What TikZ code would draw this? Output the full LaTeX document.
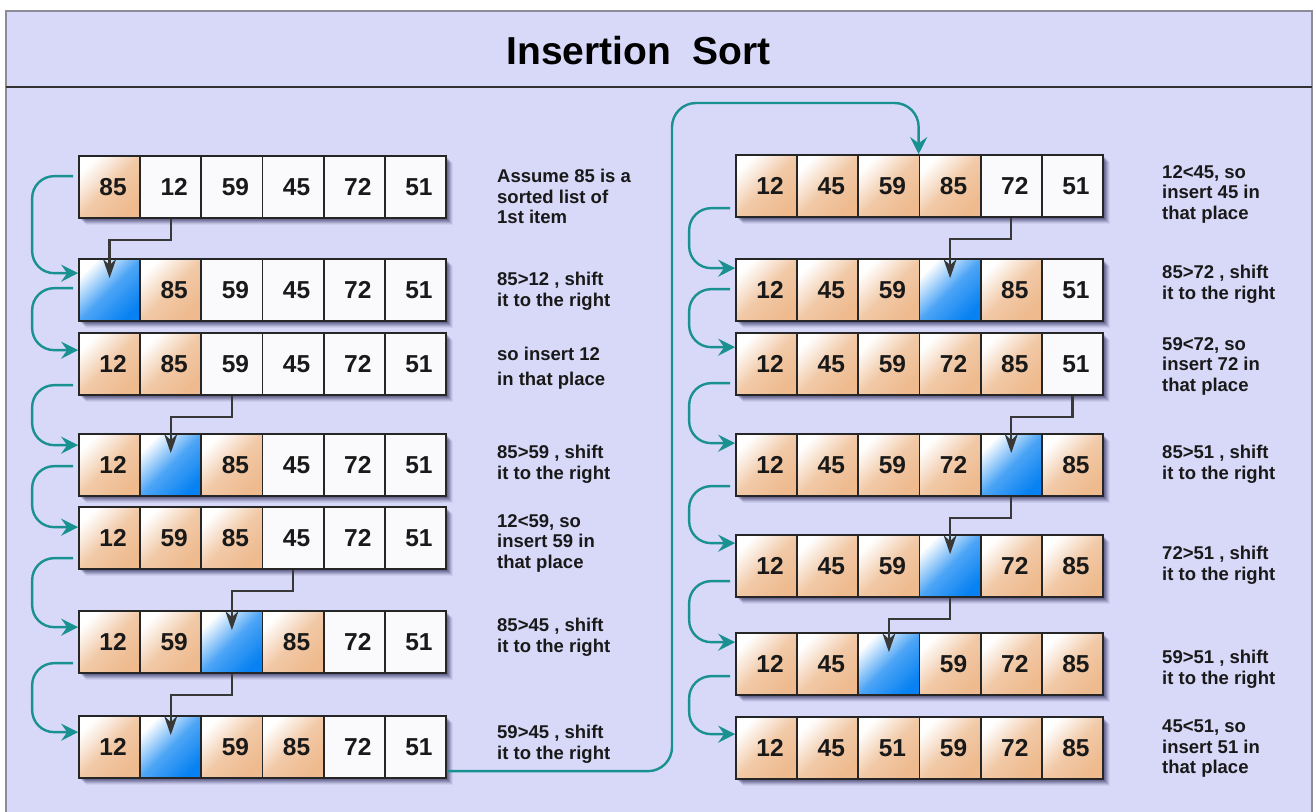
\documentclass[tikz,border=0pt]{standalone}
\usepackage{fontspec}
\setmainfont{Liberation Sans}
\usetikzlibrary{arrows.meta}
\definecolor{bgl}{RGB}{216,216,248}
\definecolor{peach}{RGB}{238,186,142}
\definecolor{cblue}{RGB}{8,130,242}
\definecolor{tealc}{RGB}{26,145,145}
\definecolor{framegray}{RGB}{140,140,150}
\definecolor{cwhite}{RGB}{250,250,252}
\newcommand\numfont{\fontsize{24.5}{26}\selectfont\bfseries}
\newcommand\lblfont{\fontsize{18.5}{20.5}\selectfont\bfseries}
\newcommand\arow[4]{%
  \foreach \d/\o in {1/0.15,2/0.15,3/0.14,4/0.13,5/0.11,6/0.08,7/0.05}{%
    \fill[black!80!blue,opacity=\o] ({#2+\d},{#3+\d}) rectangle ({#2+367+\d},{#3+62+\d});}
  \foreach \s/\v [count=\i from 0] in {#4}{%
    \node[cell,cell\s] (#1-\i) at ({#2+30.58+61.17*\i},{#3+31}) {\hspace*{7pt}\v};}
}
\newcommand\tarrow[4]{%
  \draw[tealarr] ([xshift=-5pt,yshift=-#2pt]#1.north west) -- ++(-41,0)
    |- ([yshift=-#4pt]#3.north west);}
\newcommand\barrow[2]{%
  \draw[blkarr] (#1.south) -- ++(0,21) -| ([yshift=-20pt]#2.north);}
\begin{document}
\begin{tikzpicture}[x=1pt,y=-1pt,
  cell/.style={draw=black!85,line width=1.7pt,minimum width=61.17pt,minimum height=62pt,
    inner sep=0pt,font=\numfont,text=black!90},
  cello/.style={top color=white,bottom color=peach,middle color=peach!78!white,shading angle=45},
  cellw/.style={fill=cwhite},
  cellb/.style={top color=white,bottom color=cblue,middle color=cblue!72!white,shading angle=45},
  tealarr/.style={draw=tealc,line width=2.4pt,rounded corners=22pt,
    -{Stealth[length=17pt,width=17pt,inset=6pt]}},
  blkarr/.style={draw=black!78,line width=2.3pt,
    -{Stealth[length=19pt,width=13pt,inset=6pt]}},
  lbl/.style={anchor=north west,inner sep=0pt,align=left,font=\lblfont,text=black!90}]
\useasboundingbox (0,0) rectangle (1316,811);
\fill[white] (0,0) rectangle (1316,811);
\draw[draw=framegray,fill=bgl,line width=1.5pt] (6,11) rectangle (1312,840);
\draw[black!80,line width=1.6pt] (6,87) -- (1312,87);
\node[anchor=base,inner sep=0pt,font=\fontsize{39}{42}\selectfont\bfseries] (title) at (638.5,64) {Insertion~~Sort};

% left column
\arow{L1}{79}{156}{o/85,w/12,w/59,w/45,w/72,w/51}
\arow{L2}{79}{259}{b/{},o/85,w/59,w/45,w/72,w/51}
\arow{L3}{79}{333}{o/12,o/85,w/59,w/45,w/72,w/51}
\arow{L4}{79}{434}{o/12,b/{},o/85,w/45,w/72,w/51}
\arow{L5}{79}{507}{o/12,o/59,o/85,w/45,w/72,w/51}
\arow{L6}{79}{611}{o/12,o/59,b/{},o/85,w/72,w/51}
\arow{L7}{79}{716}{o/12,b/{},o/59,o/85,w/72,w/51}
% right column
\arow{R1}{736}{155}{o/12,o/45,o/59,o/85,w/72,w/51}
\arow{R2}{736}{259}{o/12,o/45,o/59,b/{},o/85,w/51}
\arow{R3}{736}{333}{o/12,o/45,o/59,o/72,o/85,w/51}
\arow{R4}{736}{434}{o/12,o/45,o/59,o/72,b/{},o/85}
\arow{R5}{736}{535}{o/12,o/45,o/59,b/{},o/72,o/85}
\arow{R6}{736}{633}{o/12,o/45,b/{},o/59,o/72,o/85}
\arow{R7}{736}{717}{o/12,o/45,o/51,o/59,o/72,o/85}

% teal loop arrows
\tarrow{L1-0}{21}{L2-0}{15}
\tarrow{L2-0}{30}{L3-0}{18}
\tarrow{L3-0}{53}{L4-0}{12}
\tarrow{L4-0}{33}{L5-0}{21}
\tarrow{L5-0}{52}{L6-0}{17}
\tarrow{L6-0}{53}{L7-0}{17}
\tarrow{R1-0}{54}{R2-0}{10}
\tarrow{R2-0}{31}{R3-0}{15}
\tarrow{R3-0}{51}{R4-0}{10}
\tarrow{R4-0}{53}{R5-0}{9}
\tarrow{R5-0}{47}{R6-0}{10}
\tarrow{R6-0}{44}{R7-0}{18}

% big connector
\coordinate (bigturn) at (672,103);
\draw[tealarr,rounded corners=24pt] ([yshift=-56pt]L7-5.north east) -| (bigturn) -| (R1-3.north west);

% black insertion arrows
\barrow{L1-1}{L2-0}
\barrow{L3-2}{L4-1}
\barrow{L5-3}{L6-2}
\barrow{L6-2}{L7-1}
\barrow{R1-4}{R2-3}
\barrow{R3-5}{R4-4}
\barrow{R4-4}{R5-3}
\barrow{R5-3}{R6-2}

% labels
\node[lbl] (tL1) at (497,169) {Assume 85 is a\\sorted list of\\1st item};
\node[lbl] (tL2) at (497,272) {85>12 , shift\\it to the right};
\node[lbl] (tL3) at (497,347) {so insert 12\\[4pt]in that place};
\node[lbl] (tL4) at (497,445) {85>59 , shift\\it to the right};
\node[lbl] (tL5) at (497,514) {12<59, so\\insert 59 in\\that place};
\node[lbl] (tL6) at (497,618) {85>45 , shift\\it to the right};
\node[lbl] (tL7) at (497,725) {59>45 , shift\\it to the right};
\node[lbl] (tR1) at (1162,165) {12<45, so\\insert 45 in\\that place};
\node[lbl] (tR2) at (1162,265) {85>72 , shift\\it to the right};
\node[lbl] (tR3) at (1162,337) {59<72, so\\insert 72 in\\that place};
\node[lbl] (tR4) at (1162,445) {85>51 , shift\\it to the right};
\node[lbl] (tR5) at (1162,546) {72>51 , shift\\it to the right};
\node[lbl] (tR6) at (1162,650) {59>51 , shift\\it to the right};
\node[lbl] (tR7) at (1162,720) {45<51, so\\insert 51 in\\that place};
\end{tikzpicture}
\end{document}
